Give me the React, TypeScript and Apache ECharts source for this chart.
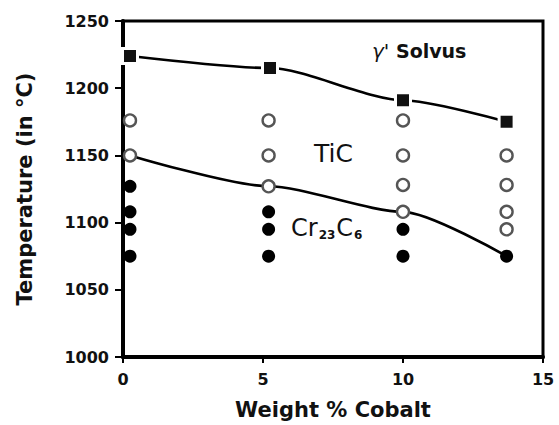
import React, { useEffect, useRef } from "react";
import * as echarts from "echarts";

// Gamma-prime solvus temperatures vs. cobalt content
const solvusCo = [0.25, 5.25, 10, 13.7];
const solvusT = [1224, 1215, 1191, 1175];

// TiC / Cr23C6 boundary
const boundaryCo = [0.25, 5.2, 10, 13.7];
const boundaryT = [1150, 1127, 1108, 1075];

// Observations where TiC is present (open circles)
const ticCo = [0.25, 0.25, 5.2, 5.2, 5.2, 10, 10, 10, 10, 13.7, 13.7, 13.7, 13.7];
const ticT = [1176, 1150, 1176, 1150, 1127, 1176, 1150, 1128, 1108, 1150, 1128, 1108, 1095];

// Observations where Cr23C6 is present (filled circles)
const crCo = [0.25, 0.25, 0.25, 0.25, 5.2, 5.2, 5.2, 10, 10, 13.7];
const crT = [1127, 1108, 1095, 1075, 1108, 1095, 1075, 1095, 1075, 1075];

const xTicks = [0, 5, 10, 15];
const yTicks = [1000, 1050, 1100, 1150, 1200, 1250];

const FONT = "DejaVu Sans";

const zip = (xs: number[], ys: number[]) => xs.map((x, i) => [x, ys[i]]);

export default function App() {
  const ref = useRef<HTMLDivElement>(null);

  useEffect(() => {
    if (!ref.current) return;
    const chart = echarts.init(ref.current, null, { renderer: "svg" });
    chart.setOption({
      animation: false,
      backgroundColor: "#fff",
      grid: {
        left: 123,
        right: 16,
        top: 21,
        bottom: 68,
        show: true,
        borderColor: "#000",
        borderWidth: 3,
      },
      xAxis: {
        type: "value",
        min: xTicks[0],
        max: xTicks[xTicks.length - 1],
        interval: 5,
        name: "Weight % Cobalt",
        nameLocation: "middle",
        nameGap: 42,
        nameTextStyle: { fontFamily: FONT, fontWeight: "bold", fontSize: 21, color: "#111" },
        axisLine: { show: true, lineStyle: { color: "#000", width: 4 } },
        axisTick: { show: true, length: 6, lineStyle: { color: "#000", width: 2 } },
        axisLabel: {
          fontFamily: FONT,
          fontWeight: "bold",
          fontSize: 16,
          color: "#111",
          margin: 14,
          formatter: (v: number) => String(v),
        },
        splitLine: { show: false },
      },
      yAxis: {
        type: "value",
        min: yTicks[0],
        max: yTicks[yTicks.length - 1],
        interval: 50,
        name: "Temperature (in °C)",
        nameLocation: "middle",
        nameGap: 88,
        nameTextStyle: { fontFamily: FONT, fontWeight: "bold", fontSize: 21, color: "#111" },
        axisLine: { show: true, lineStyle: { color: "#000", width: 4 } },
        axisTick: { show: true, length: 8, lineStyle: { color: "#000", width: 2 } },
        axisLabel: {
          fontFamily: FONT,
          fontWeight: "bold",
          fontSize: 16,
          color: "#111",
          margin: 14,
          formatter: (v: number) => String(v),
        },
        splitLine: { show: false },
      },
      graphic: [
        {
          type: "text",
          left: 372,
          top: 41,
          style: {
            text: "{g|γ'} Solvus",
            fontFamily: FONT,
            fontWeight: "bold",
            fontSize: 19,
            fill: "#111",
            rich: {
              g: { fontFamily: FONT, fontStyle: "italic", fontSize: 20, fill: "#111" },
            },
          },
        },
        {
          type: "text",
          left: 314,
          top: 141,
          style: { text: "TiC", fontFamily: FONT, fontSize: 25, fill: "#111" },
        },
        {
          type: "text",
          left: 291,
          top: 216,
          style: {
            text: "Cr{s|23}C{s|6}",
            fontFamily: FONT,
            fontSize: 24,
            fill: "#111",
            rich: {
              s: { fontFamily: FONT, fontSize: 12, fontWeight: "bold", fill: "#111", padding: [14, 1, 0, 1] },
            },
          },
        },
      ],
      series: [
        {
          type: "line",
          data: zip(solvusCo, solvusT),
          smooth: 0.25,
          smoothMonotone: "x",
          showSymbol: false,
          symbol: "none",
          lineStyle: { color: "#000", width: 2.6 },
          z: 2,
        },
        {
          type: "line",
          data: zip(boundaryCo, boundaryT),
          smooth: 0.25,
          smoothMonotone: "x",
          showSymbol: false,
          symbol: "none",
          lineStyle: { color: "#000", width: 2.6 },
          z: 2,
        },
        {
          type: "scatter",
          data: zip(solvusCo, solvusT),
          symbol: "rect",
          symbolSize: 15,
          itemStyle: { color: "#111", borderColor: "#fff", borderWidth: 3, opacity: 1 },
          z: 5,
        },
        {
          type: "scatter",
          data: zip(ticCo, ticT),
          symbol: "circle",
          symbolSize: 12,
          itemStyle: { color: "#fff", borderColor: "#555", borderWidth: 2.4, opacity: 1 },
          z: 5,
        },
        {
          type: "scatter",
          data: zip(crCo, crT),
          symbol: "circle",
          symbolSize: 13,
          itemStyle: { color: "#000", opacity: 1 },
          z: 5,
        },
      ],
    });
    return () => chart.dispose();
  }, []);

  return <div ref={ref} style={{ width: 559, height: 425, position: "absolute", left: 0, top: 0 }} />;
}
